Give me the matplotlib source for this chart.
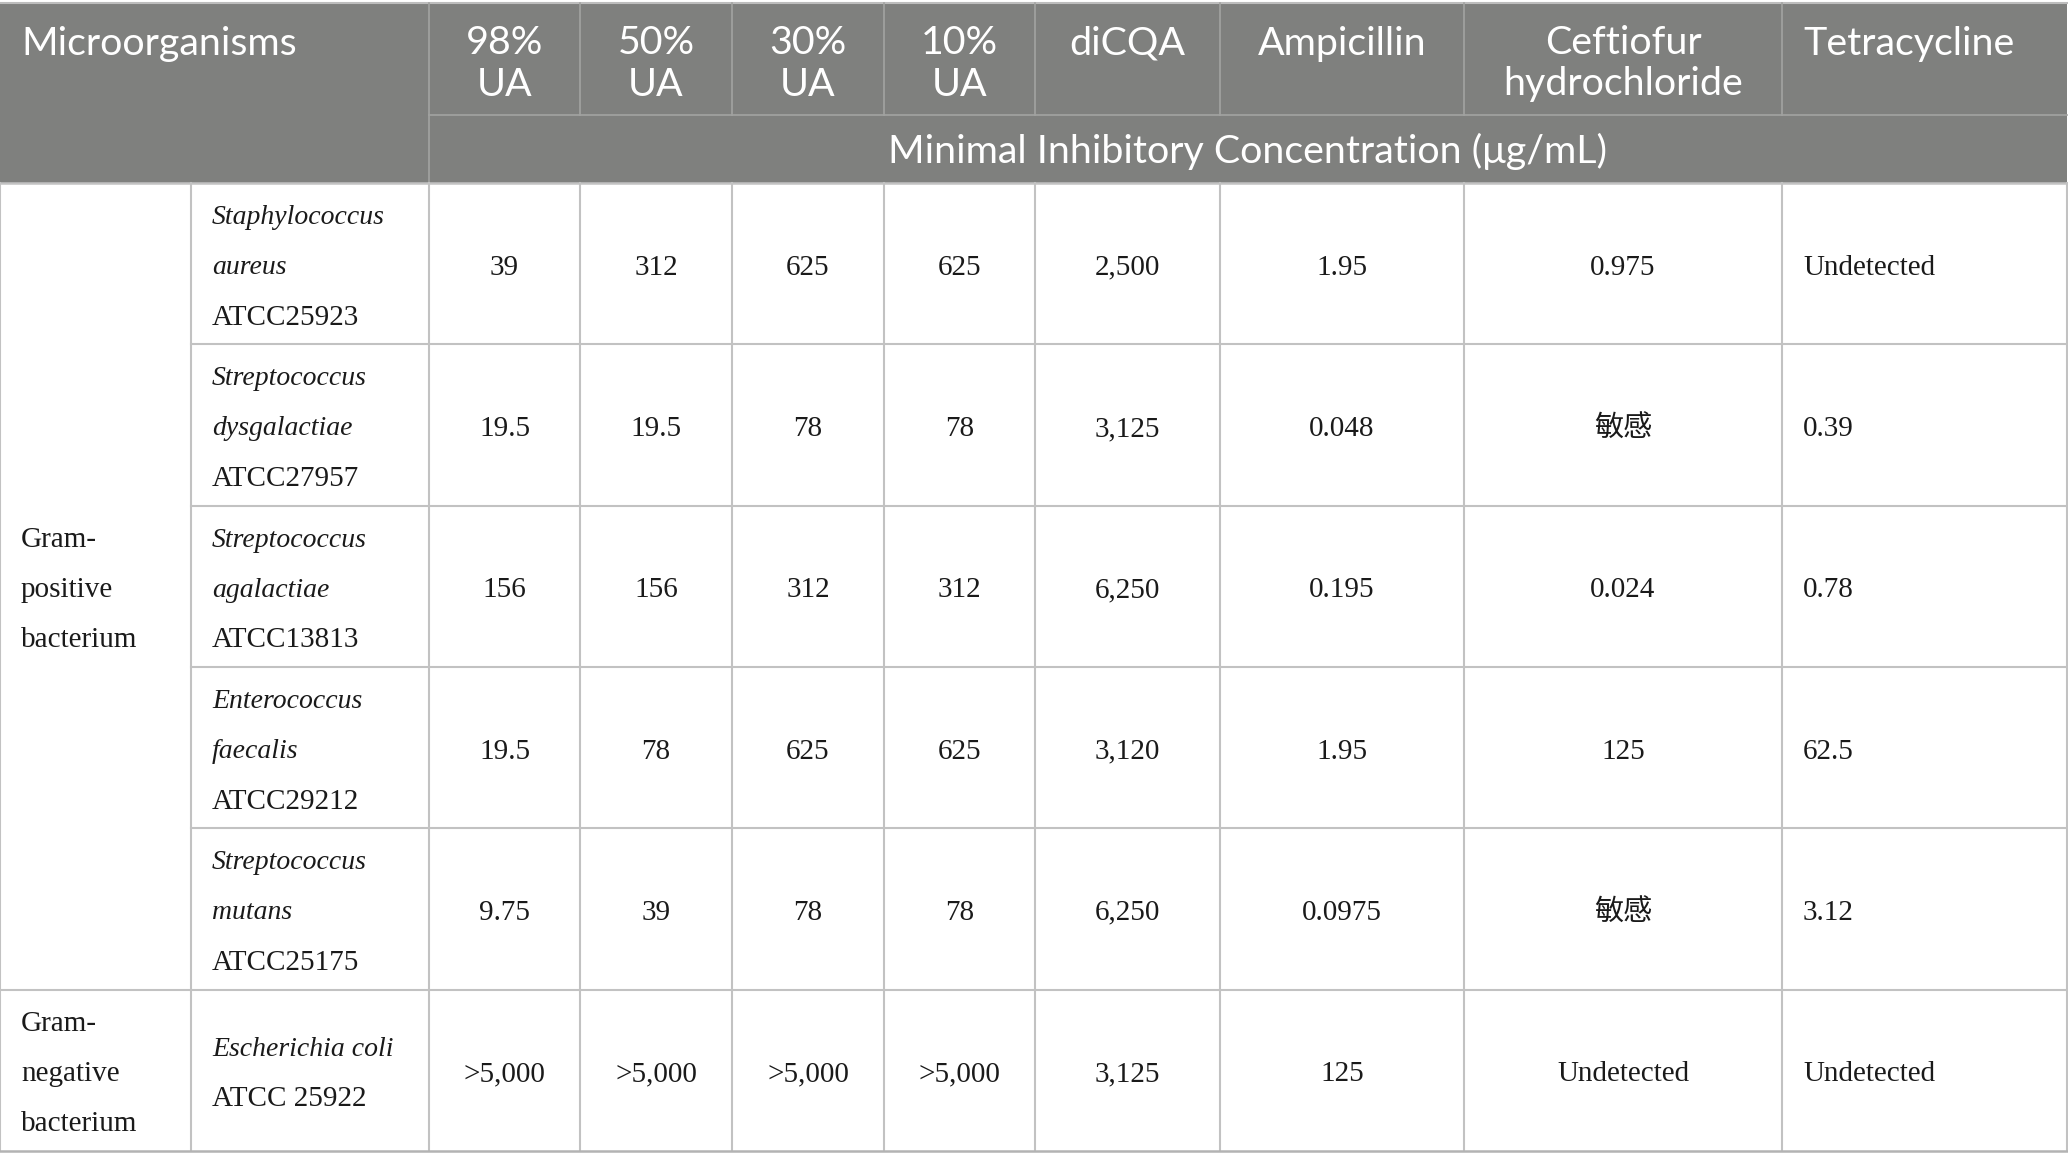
import matplotlib.pyplot as plt

# --- Table content ---
columns = ["98%\nUA", "50%\nUA", "30%\nUA", "10%\nUA", "diCQA",
           "Ampicillin", "Ceftiofur\nhydrochloride", "Tetracycline"]
subheader = "Minimal Inhibitory Concentration (\u03bcg/mL)"

groups = ["Gram-\npositive\nbacterium", "Gram-\nnegative\nbacterium"]
group_sizes = [5, 1]

species_italic = [["Staphylococcus", "aureus"],
                  ["Streptococcus", "dysgalactiae"],
                  ["Streptococcus", "agalactiae"],
                  ["Enterococcus", "faecalis"],
                  ["Streptococcus", "mutans"],
                  ["Escherichia coli"]]
strains = ["ATCC25923", "ATCC27957", "ATCC13813", "ATCC29212", "ATCC25175", "ATCC 25922"]

ua98 = ["39", "19.5", "156", "19.5", "9.75", ">5,000"]
ua50 = ["312", "19.5", "156", "78", "39", ">5,000"]
ua30 = ["625", "78", "312", "625", "78", ">5,000"]
ua10 = ["625", "78", "312", "625", "78", ">5,000"]
dicqa = ["2,500", "3,125", "6,250", "3,120", "6,250", "3,125"]
ampicillin = ["1.95", "0.048", "0.195", "1.95", "0.0975", "125"]
ceftiofur = ["0.975", "敏感", "0.024", "125", "敏感", "Undetected"]
tetracycline = ["Undetected", "0.39", "0.78", "62.5", "3.12", "Undetected"]
values = [ua98, ua50, ua30, ua10, dicqa, ampicillin, ceftiofur, tetracycline]

# --- Layout (pixels) ---
W, H = 2068, 1170
col_edges = [0, 191, 429, 580, 732, 884, 1035, 1220, 1464, 1782, 2067]
top, sub_y, head_bot = 3, 115, 183
row_h = 161.3
pad = 21
head_gap = 41
body_gap = 50
head_shift = 5   # small downward nudge of text inside cells
body_shift = 4

HEAD_BG = "#7f807e"
HEAD_LINE = "#a2a3a1"
BODY_LINE = "#c2c2c2"
TEXT = "#1a1a1a"

head_font = dict(family=["Lato", "DejaVu Sans"], fontsize=28.4, color="white")
body_font = dict(family=["Liberation Serif", "Noto Sans CJK SC"], fontsize=21, color=TEXT)
italic_font = dict(body_font, fontsize=20, style="italic")

fig = plt.figure(figsize=(W / 100, H / 100), dpi=100)
ax = fig.add_axes([0, 0, 1, 1])
ax.set_xlim(0, W)
ax.set_ylim(H, 0)
ax.axis("off")


def lines_at(yc, n, gap):
    return [yc + (i - (n - 1) / 2) * gap for i in range(n)]


# header background
ax.fill_between([0, col_edges[-1]], top, head_bot, color=HEAD_BG, lw=0)
ax.plot([0, col_edges[-1]], [top, top], color="#bdbdbd", lw=1.5)

# header grid
ax.plot([col_edges[2], col_edges[2]], [top, head_bot], color=HEAD_LINE, lw=1.2)
for x in col_edges[3:-1]:
    ax.plot([x, x], [top, sub_y], color=HEAD_LINE, lw=1.2)
ax.plot([col_edges[2], col_edges[-1]], [sub_y, sub_y], color=HEAD_LINE, lw=1.2)

# header text
first_line = (top + sub_y) / 2 - head_gap / 2 + head_shift
ax.text(col_edges[0] + pad, first_line, "Microorganisms", ha="left", va="center", **head_font)
for j, name in enumerate(columns):
    x0, x1 = col_edges[j + 2], col_edges[j + 3]
    parts = name.split("\n")
    for k, part in enumerate(parts):
        y = first_line + k * head_gap
        if name == "Tetracycline":
            ax.text(x0 + pad, y, part, ha="left", va="center", **head_font)
        else:
            ax.text((x0 + x1) / 2, y, part, ha="center", va="center", **head_font)
ax.text((col_edges[2] + col_edges[-1]) / 2, (sub_y + head_bot) / 2 + 2, subheader,
        ha="center", va="center", **head_font)

# body
n_rows = len(strains)
row_tops = [head_bot + i * row_h for i in range(n_rows + 1)]

# outer and vertical lines
for x in col_edges:
    ax.plot([x, x], [head_bot, row_tops[-1]], color=BODY_LINE, lw=1.5)
ax.plot([0, col_edges[-1]], [row_tops[-1], row_tops[-1]], color="#b3b3b3", lw=1.8)
ax.plot([0, col_edges[-1]], [head_bot, head_bot], color=BODY_LINE, lw=1.8)

# horizontal lines: group boundaries span full width, species lines start after group col
group_ends = []
acc = 0
for s in group_sizes:
    acc += s
    group_ends.append(acc)
for i in range(1, n_rows):
    x_start = 0 if i in group_ends else col_edges[1]
    ax.plot([x_start, col_edges[-1]], [row_tops[i], row_tops[i]], color=BODY_LINE, lw=1.5)

# group labels
start = 0
for label, size in zip(groups, group_sizes):
    yc = (row_tops[start] + row_tops[start + size]) / 2 + body_shift
    parts = label.split("\n")
    for y, part in zip(lines_at(yc, len(parts), body_gap), parts):
        ax.text(col_edges[0] + pad, y, part, ha="left", va="center", **body_font)
    start += size

# species and values
for i in range(n_rows):
    yc = (row_tops[i] + row_tops[i + 1]) / 2 + body_shift
    parts = species_italic[i] + [strains[i]]
    for k, (y, part) in enumerate(zip(lines_at(yc, len(parts), body_gap), parts)):
        font = italic_font if k < len(species_italic[i]) else body_font
        ax.text(col_edges[1] + pad, y, part, ha="left", va="center", **font)
    for j, col in enumerate(values):
        x0, x1 = col_edges[j + 2], col_edges[j + 3]
        if j == len(values) - 1:
            ax.text(x0 + pad, yc, col[i], ha="left", va="center", **body_font)
        else:
            ax.text((x0 + x1) / 2, yc, col[i], ha="center", va="center", **body_font)

fig.savefig("out.png", dpi=100)
